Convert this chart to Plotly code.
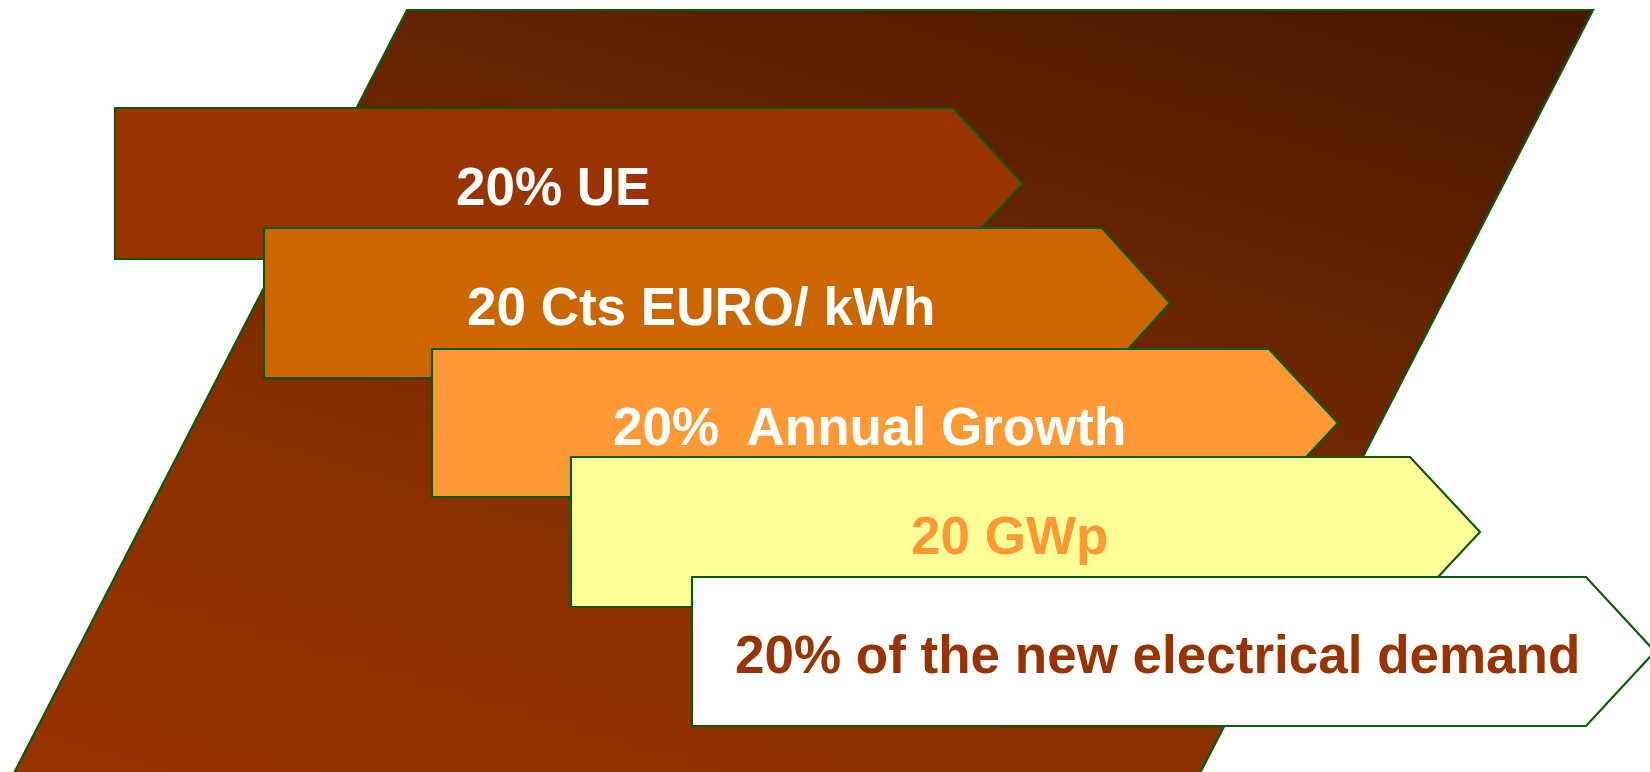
import plotly.graph_objects as go

W, H = 1650, 772

# arrow labels, top to bottom
labels = ["20% UE", "20 Cts EURO/ kWh", "20%\u00a0 Annual Growth", "20 GWp",
          "20% of the new electrical demand"]
fills = ["#993300", "#CC6600", "#FF9933", "#FFFF99", "#FFFFFF"]
text_colors = ["#FFFFFF", "#FFFFFF", "#FFFFFF", "#FF9933", "#993300"]

# arrow geometry (pixels, y down)
lefts = [115, 264, 432, 571, 692]
tops = [108, 228, 349, 457, 577]
bottoms = [259, 378, 497, 607, 726]
rect_ends = [953, 1102, 1269, 1410, 1586]
tips = [1023, 1170, 1338, 1480, 1655]

# background parallelogram
para_top = 10
para_tl, para_tr = 407, 1593
para_slope = 0.515  # x shift per pixel downwards

# diagonal gradient: u = -0.3*x + y
grad_stops = [(0.0, "#451800"), (0.169, "#561C00"), (0.298, "#642200"),
              (0.5, "#7A2A00"), (0.685, "#8A3000"), (0.839, "#913200"),
              (1.0, "#963400")]
u_min, u_max = -470, 770

line_green = "#0A5A0A"

fig = go.Figure()

gx = [-100, 1750]
gy = [-100, 872]
gz = [[-0.3 * x + y for x in gx] for y in gy]
fig.add_trace(go.Heatmap(x=gx, y=gy, z=gz, zsmooth="best", colorscale=grad_stops,
                         zmin=u_min, zmax=u_max, showscale=False, hoverinfo="skip"))

yb = 800
bl = para_tl - para_slope * (yb - para_top)
br = para_tr - para_slope * (yb - para_top)

shapes = []
# white covers outside the parallelogram
covers = [
    f"M -20,-20 L 1670,-20 L 1670,{para_top} L -20,{para_top} Z",
    f"M -20,{para_top} L {para_tl},{para_top} L {bl},{yb} L -20,{yb} Z",
    f"M {para_tr},{para_top} L 1670,{para_top} L 1670,{yb} L {br},{yb} Z",
]
for p in covers:
    shapes.append(dict(type="path", path=p, xref="x", yref="y",
                       fillcolor="white", line=dict(width=0), layer="above"))
shapes.append(dict(type="path", xref="x", yref="y", layer="above",
                   path=f"M {bl},{yb} L {para_tl},{para_top} L {para_tr},{para_top} L {br},{yb}",
                   line=dict(color=line_green, width=2.2)))

for i in range(len(labels)):
    mid = (tops[i] + bottoms[i]) / 2
    path = (f"M {lefts[i]},{tops[i]} L {rect_ends[i]},{tops[i]} L {tips[i]},{mid} "
            f"L {rect_ends[i]},{bottoms[i]} L {lefts[i]},{bottoms[i]} Z")
    shapes.append(dict(type="path", path=path, xref="x", yref="y", layer="above",
                       fillcolor=fills[i], line=dict(color=line_green, width=2.2)))

annotations = []
for i in range(len(labels)):
    mid = (tops[i] + bottoms[i]) / 2
    annotations.append(dict(
        x=(lefts[i] + tips[i]) / 2 - 16, y=mid + 3, xref="x", yref="y",
        text=f"<b>{labels[i]}</b>", showarrow=False, xanchor="center", yanchor="middle",
        font=dict(family="Liberation Sans, Arial, sans-serif", size=53, color=text_colors[i])))

fig.update_layout(
    width=W, height=H, margin=dict(l=0, r=0, t=0, b=0),
    paper_bgcolor="white", plot_bgcolor="white",
    xaxis=dict(range=[0, W], visible=False, fixedrange=True),
    yaxis=dict(range=[H, 0], visible=False, fixedrange=True),
    shapes=shapes, annotations=annotations, showlegend=False,
)

# drop the default page margin so the figure sits at the window's corner
fig.write_html("out.html", config={"displayModeBar": False},
               post_script="document.body.style.margin='0px'; document.body.style.overflow='hidden';")
